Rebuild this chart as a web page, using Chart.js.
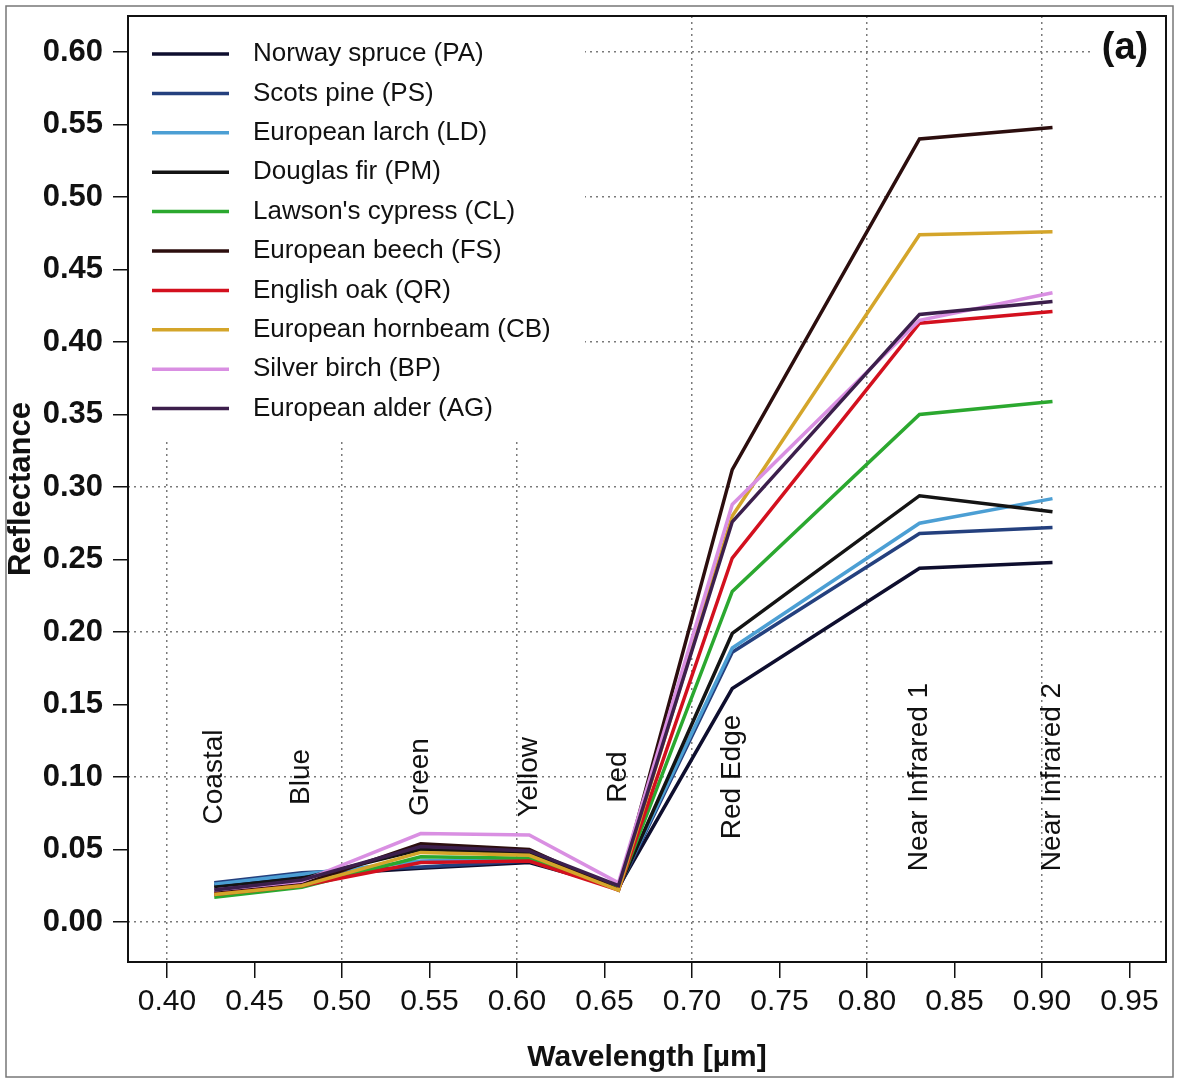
<!DOCTYPE html>
<html><head><meta charset="utf-8">
<script src="https://cdn.jsdelivr.net/npm/chart.js@4.4.1/dist/chart.umd.min.js"></script>
<style>html,body{margin:0;padding:0;background:#fff;}</style>
</head><body>
<canvas id="c" width="1179" height="1081"></canvas>
<script>
// ---- data ----
const bandNames = ['Coastal','Blue','Green','Yellow','Red','Red Edge','Near Infrared 1','Near Infrared 2'];
const wavelengths = [0.427, 0.477, 0.545, 0.607, 0.658, 0.723, 0.830, 0.906];
const seriesLabels = ['Norway spruce (PA)','Scots pine (PS)','European larch (LD)','Douglas fir (PM)',"Lawson's cypress (CL)",'European beech (FS)','English oak (QR)','European hornbeam (CB)','Silver birch (BP)','European alder (AG)'];
const PA = [0.025, 0.032, 0.037, 0.041, 0.024, 0.161, 0.244, 0.248];
const PS = [0.027, 0.034, 0.038, 0.042, 0.023, 0.186, 0.268, 0.272];
const LD = [0.026, 0.033, 0.042, 0.044, 0.024, 0.189, 0.275, 0.292];
const PM = [0.024, 0.030, 0.050, 0.048, 0.023, 0.199, 0.294, 0.283];
const CL = [0.017, 0.024, 0.045, 0.044, 0.023, 0.228, 0.350, 0.359];
const FS = [0.020, 0.026, 0.054, 0.050, 0.022, 0.312, 0.540, 0.548];
const QR = [0.019, 0.025, 0.041, 0.042, 0.022, 0.251, 0.413, 0.421];
const CB = [0.019, 0.025, 0.048, 0.046, 0.022, 0.280, 0.474, 0.476];
const BP = [0.022, 0.028, 0.061, 0.060, 0.027, 0.288, 0.415, 0.434];
const AG = [0.022, 0.029, 0.052, 0.049, 0.025, 0.276, 0.419, 0.428];
const seriesValues = [PA, PS, LD, PM, CL, FS, QR, CB, BP, AG];
const xTicks = [0.40,0.45,0.50,0.55,0.60,0.65,0.70,0.75,0.80,0.85,0.90,0.95];
const yTicks = [0.00,0.05,0.10,0.15,0.20,0.25,0.30,0.35,0.40,0.45,0.50,0.55,0.60];
const bandLabelLevel = 0.10;
const panelTag = '(a)';

// ---- styles ----
const seriesColors = ['#0e0e2e','#24407e','#4c9fd4','#141414','#2ba82f','#2c0e0e','#d3101e','#d4a52a','#d98fe2','#3c1f4c'];

const datasets = seriesLabels.map((lab, i) => ({
  label: lab,
  data: wavelengths.map((w, j) => ({x: w, y: seriesValues[i][j]})),
  borderColor: seriesColors[i],
  backgroundColor: seriesColors[i],
  borderWidth: 3.5,
  pointRadius: 0,
  tension: 0,
  fill: false,
  order: seriesLabels.length - i
}));

const isMajor = v => Math.abs(v * 10 - Math.round(v * 10)) < 1e-6;
const gridColor = ctx => (ctx.tick && isMajor(ctx.tick.value)) ? '#7a7a7a' : 'rgba(0,0,0,0)';

const decor = {
  id: 'decor',
  beforeDraw(chart) {
    const c = chart.ctx;
    c.save(); c.fillStyle = '#fff'; c.fillRect(0, 0, chart.width, chart.height); c.restore();
  },
  afterDatasetsDraw(chart) {
    const c = chart.ctx, a = chart.chartArea;
    const xs = chart.scales.x, ys = chart.scales.y;
    c.save();
    // band labels
    c.fillStyle = '#111';
    c.font = '28px "Liberation Sans", Arial, sans-serif';
    c.textAlign = 'center'; c.textBaseline = 'middle';
    bandNames.forEach((b, i) => {
      c.save();
      c.translate(xs.getPixelForValue(wavelengths[i]), ys.getPixelForValue(bandLabelLevel));
      c.rotate(-Math.PI / 2);
      c.fillText(b, 0, 0);
      c.restore();
    });
    // legend
    c.fillStyle = '#fff';
    c.fillRect(a.left + 1, a.top + 1, 456, 423);
    c.font = '26px "Liberation Sans", Arial, sans-serif';
    c.textAlign = 'left'; c.textBaseline = 'middle';
    chart.data.datasets.forEach((d, i) => {
      const yy = a.top + 38 + i * 39.4;
      c.strokeStyle = d.borderColor; c.lineWidth = 3.5;
      c.beginPath(); c.moveTo(a.left + 24, yy); c.lineTo(a.left + 101, yy); c.stroke();
      c.fillStyle = '#111';
      c.fillText(d.label, a.left + 125, yy);
    });
    // panel tag
    c.fillStyle = '#fff';
    c.fillRect(a.right - 76, a.top + 1, 75, 66);
    c.fillStyle = '#111';
    c.font = 'bold 38px "Liberation Sans", Arial, sans-serif';
    c.textAlign = 'center';
    c.fillText(panelTag, a.right - 41, a.top + 33);
    // frame
    c.strokeStyle = '#111'; c.lineWidth = 2;
    c.strokeRect(a.left, a.top, a.right - a.left, a.bottom - a.top);
    // outer border
    c.strokeStyle = '#777'; c.lineWidth = 1.5;
    c.strokeRect(6, 6, chart.width - 12, chart.height - 10);
    c.restore();
  }
};

new Chart(document.getElementById('c'), {
  type: 'line',
  data: { datasets },
  options: {
    responsive: false,
    animation: false,
    devicePixelRatio: 1,
    layout: { padding: { left: 0, top: 16, right: 13, bottom: 0 } },
    plugins: { legend: { display: false }, tooltip: { enabled: false } },
    scales: {
      x: {
        type: 'linear',
        min: 0.37771, max: 0.97086,
        afterBuildTicks: s => { s.ticks = xTicks.map(v => ({value: v})); },
        afterFit: s => { s.height = 119; s.paddingLeft = 0; s.paddingRight = 0; },
        ticks: {
          autoSkip: false, maxRotation: 0, padding: 6, color: '#111',
          font: { family: '"Liberation Sans", Arial, sans-serif', size: 30 },
          callback: v => Number(v).toFixed(2)
        },
        grid: { color: gridColor, lineWidth: 1.5, drawTicks: true, tickLength: 16, tickColor: '#111', tickWidth: 1.5, tickBorderDash: [] },
        border: { display: false, dash: [2, 4] },
        title: { display: true, text: 'Wavelength [µm]', color: '#111', padding: { top: 0, bottom: 5 },
          font: { family: '"Liberation Sans", Arial, sans-serif', size: 30, weight: 'bold' } }
      },
      y: {
        type: 'linear',
        min: -0.02759, max: 0.62483,
        afterBuildTicks: s => { s.ticks = yTicks.map(v => ({value: v})); },
        afterFit: s => { s.width = 128; s.paddingTop = 0; s.paddingBottom = 0; },
        ticks: {
          autoSkip: false, padding: 10, color: '#111',
          font: { family: '"Liberation Sans", Arial, sans-serif', size: 31, weight: 'bold' },
          callback: v => Number(v).toFixed(2)
        },
        grid: { color: gridColor, lineWidth: 1.5, drawTicks: true, tickLength: 15, tickColor: '#111', tickWidth: 1.5, tickBorderDash: [] },
        border: { display: false, dash: [2, 4] },
        title: { display: true, text: 'Reflectance', color: '#111', padding: { top: 3, bottom: 0 },
          font: { family: '"Liberation Sans", Arial, sans-serif', size: 31, weight: 'bold' } }
      }
    }
  },
  plugins: [decor]
});
</script>
</body></html>
